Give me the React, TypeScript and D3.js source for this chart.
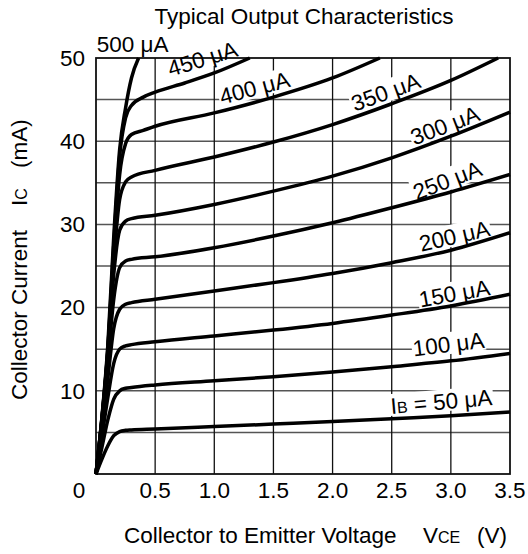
import React from 'react';
import * as d3 from 'd3';

// Typical output characteristics: IC vs VCE for several base currents
const vTicks = [0, 0.5, 1.0, 1.5, 2.0, 2.5, 3.0, 3.5];
const vTickLabels = ['0', '0.5', '1.0', '1.5', '2.0', '2.5', '3.0', '3.5'];
const iGrid = [5, 10, 15, 20, 25, 30, 35, 40, 45];
const iTicks = [10, 20, 30, 40, 50];

const ib50: [number, number][] = [
    [0, 0], [0.05, 1.8], [0.1, 3.4], [0.15, 4.6], [0.2, 5.1], [0.25, 5.25], [0.3, 5.3],
    [0.5, 5.4], [1.0, 5.7], [1.5, 6.0], [2.0, 6.3], [2.5, 6.65], [3.0, 7.0], [3.5, 7.45],
];
const ib100: [number, number][] = [
    [0, 0], [0.05, 3.2], [0.1, 6.5], [0.15, 9.0], [0.2, 10.0], [0.25, 10.3], [0.3, 10.4],
    [0.5, 10.7], [1.0, 11.2], [1.5, 11.7], [2.0, 12.25], [2.5, 12.9], [3.0, 13.6], [3.5, 14.5],
];
const ib150: [number, number][] = [
    [0, 0], [0.05, 4.5], [0.1, 9.2], [0.15, 13.3], [0.2, 15.0], [0.25, 15.4], [0.3, 15.55],
    [0.5, 15.9], [1.0, 16.6], [1.5, 17.3], [2.0, 18.1], [2.5, 19.1], [3.0, 20.2], [3.5, 21.6],
];
const ib200: [number, number][] = [
    [0, 0], [0.05, 5.5], [0.1, 11.5], [0.15, 17.5], [0.2, 19.8], [0.25, 20.4], [0.3, 20.6],
    [0.5, 21.0], [1.0, 22.0], [1.5, 23.0], [2.0, 24.1], [2.5, 25.4], [3.0, 26.9], [3.5, 29.0],
];
const ib250: [number, number][] = [
    [0, 0], [0.05, 6.2], [0.1, 13.5], [0.15, 21.0], [0.2, 24.8], [0.25, 25.6], [0.3, 25.8],
    [0.5, 26.1], [1.0, 27.2], [1.5, 28.6], [2.0, 30.2], [2.5, 32.0], [3.0, 33.9], [3.5, 36.0],
];
const ib300: [number, number][] = [
    [0, 0], [0.05, 6.4], [0.1, 14.2], [0.15, 24.0], [0.2, 29.3], [0.25, 30.4], [0.3, 30.7],
    [0.5, 31.1], [1.0, 32.4], [1.5, 34.0], [2.0, 35.8], [2.5, 38.0], [3.0, 40.6], [3.5, 43.5],
];
const ib350: [number, number][] = [
    [0, 0], [0.05, 6.5], [0.1, 14.6], [0.15, 25.5], [0.2, 33.0], [0.25, 35.1], [0.3, 35.7],
    [0.5, 36.5], [1.0, 38.1], [1.5, 39.9], [2.0, 42.0], [2.5, 44.5], [3.0, 47.3], [3.4, 50],
];
const ib400: [number, number][] = [
    [0, 0], [0.05, 6.6], [0.1, 14.8], [0.15, 26.5], [0.2, 36.0], [0.25, 39.7], [0.3, 40.8],
    [0.4, 41.3], [0.5, 41.8], [1.0, 43.4], [1.5, 45.3], [2.0, 47.6], [2.4, 50],
];
const ib450: [number, number][] = [
    [0, 0], [0.05, 6.7], [0.1, 15.0], [0.15, 27.5], [0.2, 38.2], [0.25, 42.8], [0.3, 44.3],
    [0.4, 45.3], [0.5, 45.9], [0.75, 47.0], [1.0, 48.2], [1.3, 50],
];
const ib500: [number, number][] = [
    [0, 0], [0.05, 6.8], [0.1, 15.5], [0.15, 28.5], [0.2, 39.0], [0.25, 44.0], [0.3, 47.6], [0.36, 50],
];

const seriesNames = ['50', '100', '150', '200', '250', '300', '350', '400', '450', '500'];
const seriesData = [ib50, ib100, ib150, ib200, ib250, ib300, ib350, ib400, ib450, ib500];

// label placement in chart units (VCE, IC) and rotation
const labelSpots = [
    { v: 2.92, i: 8.7, angle: -5 },
    { v: 2.98, i: 15.6, angle: -7 },
    { v: 3.03, i: 21.7, angle: -10 },
    { v: 3.03, i: 28.6, angle: -13 },
    { v: 2.97, i: 35.3, angle: -21 },
    { v: 2.95, i: 41.9, angle: -21 },
    { v: 2.45, i: 45.9, angle: -20 },
    { v: 1.34, i: 46.4, angle: -15 },
    { v: 0.9, i: 49.9, angle: -17 },
    { v: 0.31, i: 51.7, angle: 0 },
];

const W = 528;
const H = 554;
const margin = { left: 96, right: 18, top: 58, bottom: 80 };
const font = 'Liberation Sans, Arial, Helvetica, sans-serif';
const fs = 22.5;
const fsSmall = 16;

const App: React.FC = () => {
    const x = d3.scaleLinear().domain([0, 3.5]).range([margin.left, W - margin.right]);
    const y = d3.scaleLinear().domain([0, 50]).range([H - margin.bottom, margin.top]);

    const line = d3
        .line<[number, number]>()
        .x((d) => x(d[0]))
        .y((d) => y(d[1]))
        .curve(d3.curveMonotoneX);

    return (
        <svg
            width={W}
            height={H}
            style={{ position: 'absolute', left: 0, top: 0, background: '#fff' }}
            fontFamily={font}
        >
            <text x={304} y={24} textAnchor="middle" fontSize={fs}>
                Typical Output Characteristics
            </text>

            {/* grid */}
            {iGrid.map((d) => (
                <line key={'h' + d} x1={x(0)} x2={x(3.5)} y1={y(d)} y2={y(d)} stroke="#555" strokeWidth={1.5} />
            ))}
            {vTicks.slice(1, -1).map((d) => (
                <line key={'v' + d} x1={x(d)} x2={x(d)} y1={y(0)} y2={y(50)} stroke="#111" strokeWidth={1.3} />
            ))}

            {/* label backgrounds */}
            {labelSpots.map((s, k) => {
                const w = k === 0 ? 104 : 74;
                return (
                    <rect
                        key={'bg' + k}
                        x={-w / 2}
                        y={-12}
                        width={w}
                        height={22}
                        fill="#fff"
                        transform={`translate(${x(s.v)},${y(s.i)}) rotate(${s.angle})`}
                    />
                );
            })}

            <rect
                x={x(0)}
                y={y(50)}
                width={x(3.5) - x(0)}
                height={y(0) - y(50)}
                fill="none"
                stroke="#111"
                strokeWidth={1.8}
            />

            {seriesData.map((d, k) => (
                <path key={seriesNames[k]} d={line(d) || ''} fill="none" stroke="#000" strokeWidth={3.5} />
            ))}

            {labelSpots.map((s, k) => (
                <text
                    key={'lb' + k}
                    transform={`translate(${x(s.v)},${y(s.i)}) rotate(${s.angle})`}
                    textAnchor="middle"
                    dy="0.35em"
                    fontSize={fs}
                >
                    {k === 0 ? (
                        <>
                            I<tspan fontSize={fsSmall}>B</tspan> = {seriesNames[k]} μA
                        </>
                    ) : (
                        `${seriesNames[k]} μA`
                    )}
                </text>
            ))}

            {/* axis tick labels */}
            {vTicks.map((d, k) => (
                <text
                    key={'xt' + d}
                    x={k === 0 ? x(d) - 17 : x(d)}
                    y={y(0) + 24}
                    textAnchor="middle"
                    fontSize={fs}
                >
                    {vTickLabels[k]}
                </text>
            ))}
            {iTicks.map((d) => (
                <text key={'yt' + d} x={x(0) - 11} y={y(d)} dy="0.35em" textAnchor="end" fontSize={fs}>
                    {d}
                </text>
            ))}

            {/* axis titles */}
            <g fontSize={fs}>
                <text x={124} y={543}>Collector to Emitter Voltage</text>
                <text x={423} y={543}>
                    V<tspan fontSize={fsSmall}>CE</tspan>
                </text>
                <text x={477} y={543}>(V)</text>
            </g>
            <g fontSize={fs} transform="translate(27,0) rotate(-90)">
                <text x={-400} y={0}>Collector Current</text>
                <text x={-206} y={0}>
                    I<tspan fontSize={fsSmall}>C</tspan>
                </text>
                <text x={-168} y={0}>(mA)</text>
            </g>
        </svg>
    );
};

export default App;
